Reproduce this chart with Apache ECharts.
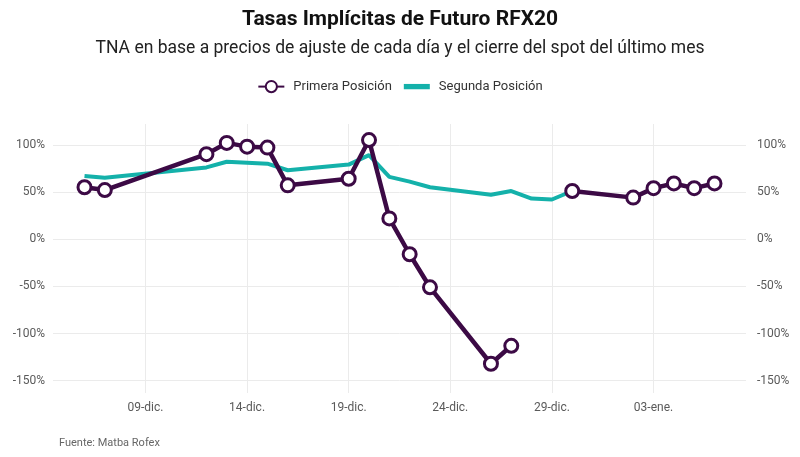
<!DOCTYPE html>
<html>
<head>
<meta charset="utf-8">
<script src="https://cdn.jsdelivr.net/npm/echarts@6/dist/echarts.min.js"></script>
<style>
  html, body { margin: 0; padding: 0; background: #fff; }
  #chart { width: 800px; height: 457px; }
</style>
</head>
<body>
<div id="chart"></div>
<script>
// datos (TNA en %)
const fechas = ['2022-12-06', '2022-12-07', '2022-12-12', '2022-12-13', '2022-12-14', '2022-12-15',
  '2022-12-16', '2022-12-19', '2022-12-20', '2022-12-21', '2022-12-22', '2022-12-23',
  '2022-12-26', '2022-12-27', '2022-12-28', '2022-12-29', '2022-12-30',
  '2023-01-02', '2023-01-03', '2023-01-04', '2023-01-05', '2023-01-06'];
const primera = [55, 52, 90, 102, 98, 97, 57, 64, 105, 22, -16, -51, -132, -113, null, null, 51, 44, 54, 59, 54, 59];
const segunda = [67, 65, 76, 82, 81, 80, 73, 79, 89, 66, 61, 55, 47, 51, 43, 42, 51, null, null, null, null, null];

// etiquetas de los ejes
const ticksFechas = ['2022-12-09', '2022-12-14', '2022-12-19', '2022-12-24', '2022-12-29', '2023-01-03'];
const ticksTasa = [-150, -100, -50, 0, 50, 100];
const meses = ['ene.', 'feb.', 'mar.', 'abr.', 'may.', 'jun.', 'jul.', 'ago.', 'sep.', 'oct.', 'nov.', 'dic.'];

const chart = echarts.init(document.getElementById('chart'));

function ts(s) {
  const p = s.split('-').map(Number);
  return Date.UTC(p[0], p[1] - 1, p[2]);
}
const DIA = 86400000;
const tiempos = fechas.map(ts);
const tickTiempos = ticksFechas.map(ts);

function etiquetaFecha(v) {
  const d = new Date(v);
  const dd = String(d.getUTCDate()).padStart(2, '0');
  return dd + '-' + meses[d.getUTCMonth()];
}

const gris = '#5a5a5a';
const ejeY = (pos) => ({
  type: 'value',
  position: pos,
  min: -163,
  max: 122,
  axisLine: { show: false },
  axisTick: { show: false, customValues: ticksTasa },
  axisLabel: {
    customValues: ticksTasa,
    formatter: v => v + '%',
    color: gris,
    fontSize: 12,
    fontFamily: 'Roboto',
    margin: pos === 'left' ? 8 : 11
  },
  splitLine: { show: pos === 'left', lineStyle: { color: '#ebebeb', width: 1 } }
});

const option = {
  backgroundColor: '#fff',
  animation: false,
  title: [
    {
      text: 'Tasas Implícitas de Futuro RFX20',
      left: 'center',
      top: 4,
      textStyle: { fontFamily: 'Roboto', fontWeight: 'bold', fontSize: 21, color: '#111' }
    },
    {
      text: 'TNA en base a precios de ajuste de cada día y el cierre del spot del último mes',
      left: 'center',
      top: 35,
      textStyle: { fontFamily: 'Roboto', fontWeight: 'normal', fontSize: 17.5, color: '#222' }
    },
    {
      text: 'Fuente: Matba Rofex',
      left: 54,
      top: 433,
      textStyle: { fontFamily: 'Roboto', fontWeight: 'normal', fontSize: 11, color: '#666' }
    }
  ],
  legend: {
    top: 75,
    left: 'center',
    itemWidth: 26,
    itemHeight: 14,
    itemGap: 12,
    textStyle: { fontFamily: 'Roboto', fontSize: 13, color: '#333', padding: [0, 0, 0, 4] },
    data: [
      { name: 'Primera Posición' },
      { name: 'Segunda Posición', icon: 'path://M0,0 L22,0 L22,4.5 L0,4.5 Z' }
    ]
  },
  grid: { left: 53, right: 54, top: 124, bottom: 64 },
  xAxis: {
    type: 'value',
    min: tiempos[0] - 1.55 * DIA,
    max: tiempos[tiempos.length - 1] + 1.55 * DIA,
    axisLine: { show: false },
    axisTick: { show: false, customValues: tickTiempos },
    axisLabel: {
      customValues: tickTiempos,
      formatter: etiquetaFecha,
      color: gris,
      fontSize: 12,
      fontFamily: 'Roboto',
      margin: 9
    },
    splitLine: { show: true, lineStyle: { color: '#ebebeb', width: 1 } }
  },
  yAxis: [ejeY('left'), ejeY('right')],
  series: [
    {
      name: 'Segunda Posición',
      type: 'line',
      data: tiempos.map((t, i) => [t, segunda[i]]),
      showSymbol: false,
      symbol: 'none',
      lineStyle: { color: '#14b1aa', width: 4 },
      itemStyle: { color: '#14b1aa' },
      z: 2
    },
    {
      name: 'Primera Posición',
      type: 'line',
      data: tiempos.map((t, i) => [t, primera[i]]),
      symbol: 'circle',
      symbolSize: 13,
      lineStyle: { color: '#3c0a45', width: 4.5 },
      itemStyle: { color: '#fff', borderColor: '#3c0a45', borderWidth: 3 },
      z: 3
    }
  ]
};

chart.setOption(option);
</script>
</body>
</html>
